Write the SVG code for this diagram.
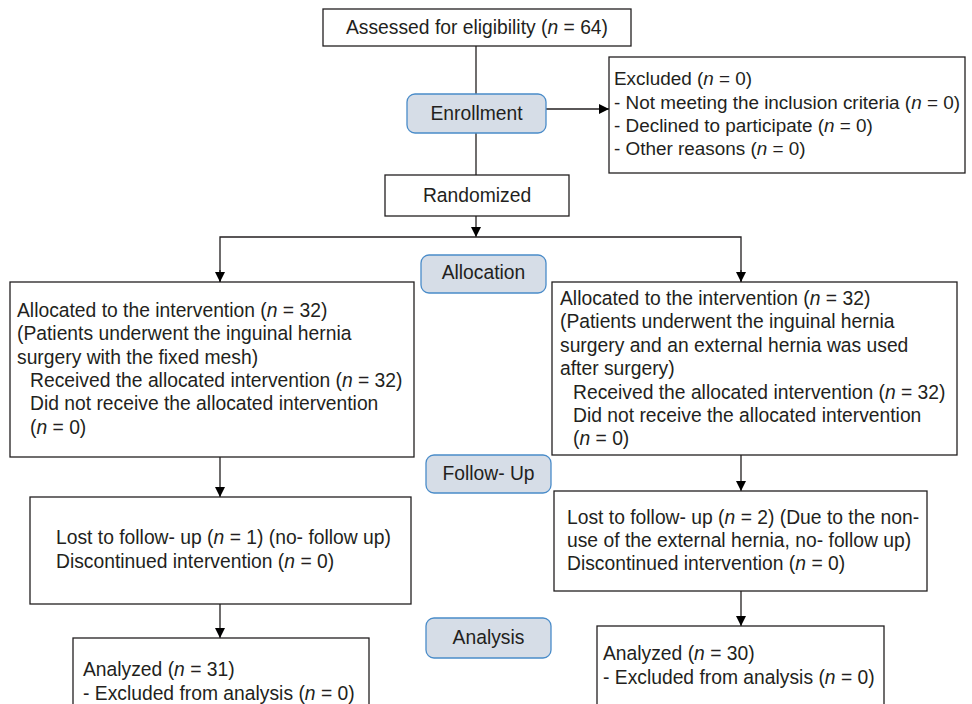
<svg xmlns="http://www.w3.org/2000/svg" width="972" height="704" viewBox="0 0 972 704">
<style>
text{font-family:"Liberation Sans",Arial,sans-serif;font-size:19.3px;fill:#231f20}
.c{text-anchor:middle}
.i{font-style:italic}
.s{font-size:18.9px}
.box{fill:#fff;stroke:#231f20;stroke-width:1.3}
.stage{fill:#d6dde7;stroke:#4a8cc9;stroke-width:1.3}
.ln{fill:none;stroke:#231f20;stroke-width:1.3}
</style>
<defs>
<marker id="ah" viewBox="0 0 10 10" refX="10" refY="5" markerWidth="10" markerHeight="10" markerUnits="userSpaceOnUse" orient="auto">
<path d="M0,0 L10,5 L0,10 z" fill="#000"/>
</marker>
</defs>
<g id="connectors">
<line class="ln" x1="476" y1="46" x2="476" y2="175"/>
<line class="ln" x1="546" y1="109" x2="609" y2="109" marker-end="url(#ah)"/>
<line class="ln" x1="476" y1="216" x2="476" y2="237" marker-end="url(#ah)"/>
<polyline class="ln" points="220,282 220,237 741,237 741,282"/>
<line class="ln" x1="220" y1="270" x2="220" y2="282" marker-end="url(#ah)"/>
<line class="ln" x1="741" y1="270" x2="741" y2="282" marker-end="url(#ah)"/>
<line class="ln" x1="220" y1="457" x2="220" y2="497" marker-end="url(#ah)"/>
<line class="ln" x1="741" y1="455" x2="741" y2="491" marker-end="url(#ah)"/>
<line class="ln" x1="220" y1="604" x2="220" y2="638" marker-end="url(#ah)"/>
<line class="ln" x1="741" y1="591" x2="741" y2="626" marker-end="url(#ah)"/>
</g>
<g id="assessed">
<rect class="box" x="323" y="9" width="308" height="37"/>
<text class="c" x="477" y="34">Assessed for eligibility (<tspan class="i">n</tspan> = 64)</text>
</g>
<g id="enrollment">
<rect class="stage" x="407" y="94" width="139" height="39" rx="8"/>
<text class="c" x="476.5" y="120">Enrollment</text>
</g>
<g id="excluded">
<rect class="box" x="609" y="57" width="356" height="116"/>
<text class="s" x="614" y="85">Excluded (<tspan class="i">n</tspan> = 0)</text>
<text class="s" x="614" y="108.5">- Not meeting the inclusion criteria (<tspan class="i">n</tspan> = 0)</text>
<text class="s" x="614" y="132">- Declined to participate (<tspan class="i">n</tspan> = 0)</text>
<text class="s" x="614" y="155">- Other reasons (<tspan class="i">n</tspan> = 0)</text>
</g>
<g id="randomized">
<rect class="box" x="385" y="175" width="184" height="41"/>
<text class="c" x="477" y="202">Randomized</text>
</g>
<g id="allocation">
<rect class="stage" x="421" y="255" width="125" height="38" rx="8"/>
<text class="c" x="483.5" y="279">Allocation</text>
</g>
<g id="alloc-left">
<rect class="box" x="10" y="282" width="404" height="175"/>
<text x="17" y="317">Allocated to the intervention (<tspan class="i">n</tspan> = 32)</text>
<text x="17" y="340">(Patients underwent the inguinal hernia</text>
<text x="17" y="364">surgery with the fixed mesh)</text>
<text x="30" y="387">Received the allocated intervention (<tspan class="i">n</tspan> = 32)</text>
<text x="30" y="410">Did not receive the allocated intervention</text>
<text x="30" y="434">(<tspan class="i">n</tspan> = 0)</text>
</g>
<g id="alloc-right">
<rect class="box" x="552" y="282" width="405" height="173"/>
<text x="560" y="305">Allocated to the intervention (<tspan class="i">n</tspan> = 32)</text>
<text x="560" y="328">(Patients underwent the inguinal hernia</text>
<text x="560" y="352">surgery and an external hernia was used</text>
<text x="560" y="375">after surgery)</text>
<text x="573" y="399">Received the allocated intervention (<tspan class="i">n</tspan> = 32)</text>
<text x="573" y="422">Did not receive the allocated intervention</text>
<text x="573" y="445">(<tspan class="i">n</tspan> = 0)</text>
</g>
<g id="followup">
<rect class="stage" x="426" y="455" width="125" height="38" rx="8"/>
<text class="c" x="488.5" y="480">Follow- Up</text>
</g>
<g id="follow-left">
<rect class="box" x="30" y="497" width="381" height="107"/>
<text x="56" y="544">Lost to follow- up (<tspan class="i">n</tspan> = 1) (no- follow up)</text>
<text x="56" y="568">Discontinued intervention (<tspan class="i">n</tspan> = 0)</text>
</g>
<g id="follow-right">
<rect class="box" x="554" y="491" width="373" height="100"/>
<text x="567" y="524">Lost to follow- up (<tspan class="i">n</tspan> = 2) (Due to the non-</text>
<text x="567" y="547">use of the external hernia, no- follow up)</text>
<text x="567" y="570">Discontinued intervention (<tspan class="i">n</tspan> = 0)</text>
</g>
<g id="analysis">
<rect class="stage" x="426" y="618" width="125" height="40" rx="8"/>
<text class="c" x="488.5" y="644">Analysis</text>
</g>
<g id="analyzed-left">
<rect class="box" x="73" y="638" width="296" height="80"/>
<text x="83" y="676">Analyzed (<tspan class="i">n</tspan> = 31)</text>
<text x="83" y="700">- Excluded from analysis (<tspan class="i">n</tspan> = 0)</text>
</g>
<g id="analyzed-right">
<rect class="box" x="597" y="626" width="287" height="90"/>
<text x="603" y="660">Analyzed (<tspan class="i">n</tspan> = 30)</text>
<text x="603" y="684">- Excluded from analysis (<tspan class="i">n</tspan> = 0)</text>
</g>
</svg>
